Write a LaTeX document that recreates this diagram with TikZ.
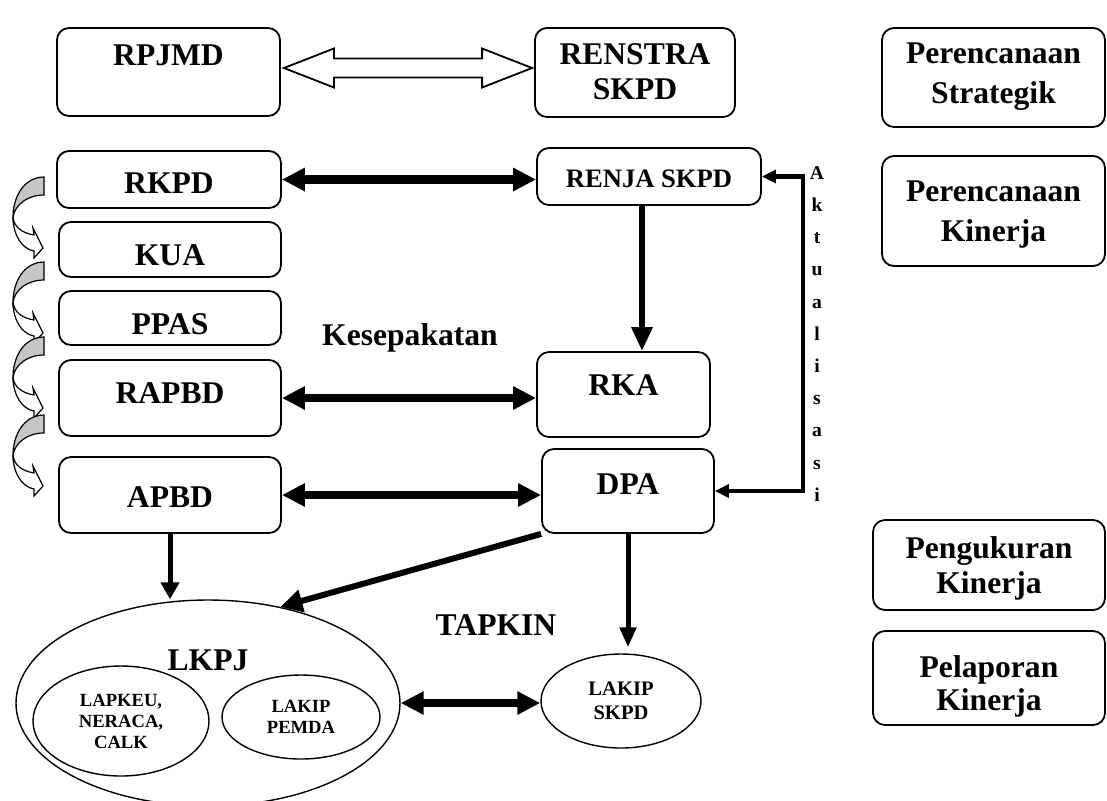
\documentclass[tikz,border=0pt]{standalone}
\usepackage{fontspec}
\setmainfont{Liberation Serif}
\usetikzlibrary{arrows.meta,shapes.geometric,calc,positioning}

\tikzset{curl/.pic={
  \draw[line width=0.6pt, fill=gray!45] (0,0) .. controls (-20,0) and (-31,20) .. (-31,40)
    .. controls (-29,28) and (-17,18) .. (0,18) -- cycle;
  \draw[line width=0.6pt, fill=white] (-31,40) .. controls (-31,58) and (-22,72) .. (-10,74)
    -- (-10,81) -- (-1,71) -- (-11,51) -- (-10,58) .. controls (-22,56) and (-30,50) .. (-31,40) -- cycle;
}}

\begin{document}
\begin{tikzpicture}[x=0.5pt, y=-0.5pt, >={Triangle[length=10pt,width=9pt]},
  every node/.style={font=\fontsize{15.8}{20}\selectfont\bfseries, align=center},
  box/.style={draw, line width=0.9pt, rounded corners=6pt, inner xsep=0pt, inner ysep=0pt},
  oval/.style={draw, ellipse, line width=0.7pt, inner sep=0pt},
  small/.style={font=\fontsize{9.3}{10.5}\selectfont\bfseries},
  dbl/.style={<->, >={Triangle[length=11.5pt,width=11pt]}, line width=4.3pt},
  hollow/.style={draw, line width=0.9pt, fill=white}]
\useasboundingbox (0,0) rectangle (1107,800);

\node[box, minimum width=111.5pt, text height=18.5pt, text depth=25.5pt] (rpjmd) at (168.5,72) {RPJMD};
\node[box, minimum width=100pt, text height=35.5pt, text depth=9pt,
      font=\fontsize{15.8}{17.5}\selectfont\bfseries] (renstra) at (635,72.5) {RENSTRA\\SKPD};
\node[box, minimum width=111.5pt, text height=37.5pt, text depth=12pt] (strat) at (993.5,77.5) {Perencanaan\\Strategik};

\node[box, minimum width=112pt, text height=21pt, text depth=7.5pt] (rkpd) at (169,179.5) {RKPD};
\node[box, minimum width=112pt, text height=19.5pt, text depth=9pt,
      font=\fontsize{13.3}{16}\selectfont\bfseries] (renja) at (649,176.5) {RENJA SKPD};
\node[box, minimum width=111.5pt, text height=42.5pt, text depth=12.5pt] (rencana) at (993.5,211) {Perencanaan\\Kinerja};
\node[box, minimum width=111pt, text height=21.5pt, text depth=6pt] (kua) at (170,249.5) {KUA};
\node[box, minimum width=111pt, text height=21.5pt, text depth=5.5pt] (ppas) at (170,318) {PPAS};
\node[box, minimum width=111pt, text height=21.5pt, text depth=16.5pt] (rapbd) at (170,398) {RAPBD};
\node[box, minimum width=86.5pt, text height=21.5pt, text depth=21pt] (rka) at (623.5,394.5) {RKA};
\node[box, minimum width=111pt, text height=25pt, text depth=13pt] (apbd) at (170,495) {APBD};
\node[box, minimum width=86pt, text height=22.5pt, text depth=19.5pt] (dpa) at (628,491) {DPA};
\node[box, minimum width=116pt, text height=36.5pt, text depth=8.5pt,
      font=\fontsize{15.8}{17.5}\selectfont\bfseries] (ukur) at (989,565) {Pengukuran\\Kinerja};
\node[box, minimum width=116pt, text height=39.5pt, text depth=7.5pt,
      font=\fontsize{15.8}{16.5}\selectfont\bfseries] (lapor) at (989,678) {Pelaporan\\Kinerja};

\node[anchor=base] (sepakat) at (410,345) {Kesepakatan};
\node[anchor=base] (tapkin) at (496,635) {TAPKIN};
\node[anchor=north, inner sep=0pt, font=\fontsize{9.8}{16.1}\selectfont\bfseries] (akt) at (817,166)
  {A\\k\\t\\u\\a\\l\\i\\s\\a\\s\\i};

\node[oval, minimum width=192pt, minimum height=103pt, text height=11pt, text depth=44pt] (lkpj) at (208,703) {LKPJ};
\node[oval, small, minimum width=88pt, minimum height=55pt] (lapkeu) at (121,721) {LAPKEU,\\NERACA,\\CALK};
\node[oval, small, minimum width=79pt, minimum height=42pt] (pemda) at (301,717) {LAKIP\\PEMDA};
\node[oval, font=\fontsize{10.3}{12}\selectfont\bfseries, minimum width=80pt, minimum height=47pt] (lakip) at (621,701) {LAKIP\\SKPD};

\coordinate (hl) at ($(rpjmd.east)+(3,-4)$);
\coordinate (hr) at ($(renstra.west)+(-2,-4.5)$);
\draw[hollow] (hl) -- ++(50,-19.5) -- ++(0,10) -- ($(hr)+(-50,-9.5)$) -- ++(0,-10) -- (hr)
  -- ++(-50,19.5) -- ++(0,-10) -- ($(hl)+(50,9.5)$) -- ++(0,10) -- cycle;

\foreach \t in {177,262,337,415}
  \pic at (44,\t) {curl};

\draw[dbl] (rkpd.east) -- (rkpd.east -| renja.west);
\draw[dbl] (rapbd.east) -- (rapbd.east -| rka.west);
\draw[dbl] (apbd.east) -- (apbd.east -| dpa.west);
\draw[dbl] (lkpj.east) -- (lkpj.east -| lakip.west);

\draw[->, line width=3pt, >={Triangle[length=12pt,width=10pt]}] ([xshift=-3.5pt]renja.south) -- ([xshift=-3.5pt]renja.south |- rka.north);
\draw[<->, line width=2.2pt, >={Triangle[length=7pt,width=6.5pt]}] (renja.east) -- ++(41,0) |- (dpa.east);
\draw[->, line width=2.5pt, >={Triangle[length=8.5pt,width=9pt]}] (apbd.south) -- (apbd.south |- lkpj.north);
\draw[->, line width=3pt, >={Triangle[length=11pt,width=11pt]}] (dpa.south west) -- (lkpj.53);
\draw[->, line width=2.5pt, >={Triangle[length=10pt,width=8pt]}, shorten >=3pt] (dpa.south) -- (dpa.south |- lakip.north);
\end{tikzpicture}
\end{document}
